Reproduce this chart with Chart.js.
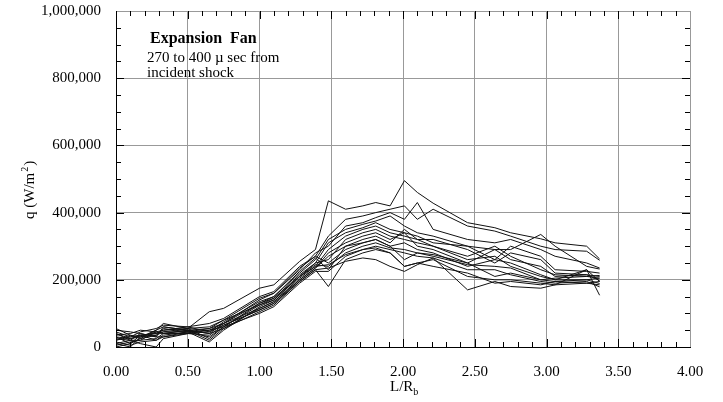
<!DOCTYPE html>
<html>
<head>
<meta charset="utf-8">
<script src="https://cdn.jsdelivr.net/npm/chart.js@4.4.0/dist/chart.umd.min.js"></script>
<style>
  html, body { margin: 0; padding: 0; background: #fff; }
  #wrap { width: 723px; height: 402px; }
</style>
</head>
<body>
<div id="wrap"><canvas id="chart"></canvas></div>
<script>
// Positions des jauges (L/R_b)
const positions = [0.00, 0.10, 0.17, 0.28, 0.33, 0.50, 0.65, 0.75, 1.00, 1.10, 1.28, 1.39, 1.48, 1.60, 1.72, 1.81, 1.91, 2.01, 2.10, 2.21, 2.45, 2.64, 2.75, 2.96, 3.06, 3.28, 3.37];

// Flux de chaleur q, en milliers de W/m2
const runA = [20, 30, 35, 40, 45, 55, 105, 115, 175, 185, 255, 290, 435, 410, 420, 430, 420, 495, 460, 428, 370, 355, 340, 322, 310, 300, 262];
const runB = [40, 25, 30, 45, 50, 60, 70, 85, 150, 165, 240, 270, 330, 380, 390, 400, 410, 420, 380, 410, 360, 345, 330, 300, 290, 285, 258];
const runC = [10, 20, 40, 30, 60, 50, 40, 70, 140, 160, 230, 280, 300, 360, 370, 385, 400, 380, 430, 350, 320, 310, 320, 290, 270, 250, 235];
const runD = [55, 35, 30, 50, 70, 55, 25, 60, 130, 150, 220, 260, 320, 350, 365, 375, 390, 360, 340, 330, 300, 290, 290, 335, 300, 240, 232];
const runE = [30, 10, 25, 35, 55, 45, 15, 50, 120, 140, 210, 250, 310, 340, 355, 370, 350, 340, 330, 310, 300, 260, 300, 270, 230, 225, 220];
const runF = [5, 15, 20, 25, 40, 50, 20, 55, 115, 135, 205, 240, 290, 330, 350, 360, 340, 330, 320, 320, 290, 250, 280, 260, 220, 215, 210];
const runG = [15, 5, 15, 20, 35, 45, 30, 60, 125, 145, 215, 250, 260, 320, 340, 350, 330, 320, 310, 300, 270, 300, 270, 230, 215, 210, 205];
const runH = [25, 20, 10, 0, 25, 40, 35, 65, 110, 130, 200, 235, 280, 310, 330, 340, 320, 340, 300, 290, 250, 290, 260, 240, 210, 215, 198];
const runI = [45, 30, 45, 55, 65, 60, 45, 75, 135, 150, 225, 265, 230, 300, 320, 330, 310, 350, 320, 300, 260, 270, 240, 210, 200, 230, 195];
const runJ = [0, 10, 35, 40, 50, 55, 60, 80, 145, 160, 235, 270, 250, 290, 310, 320, 300, 310, 290, 280, 240, 260, 250, 215, 200, 200, 189];
const runK = [35, 40, 50, 45, 40, 50, 55, 70, 130, 145, 210, 245, 240, 280, 300, 310, 295, 290, 280, 270, 245, 240, 235, 200, 195, 190, 185];
const runL = [50, 45, 40, 30, 30, 40, 50, 60, 100, 120, 190, 225, 225, 270, 290, 300, 290, 280, 270, 265, 230, 230, 215, 195, 190, 195, 179];
const runM = [20, 35, 25, 50, 60, 50, 40, 55, 105, 125, 195, 230, 180, 260, 280, 290, 280, 240, 250, 260, 210, 200, 200, 190, 185, 230, 154];
const runN = [10, 0, 30, 35, 45, 45, 50, 70, 115, 135, 200, 235, 270, 300, 310, 320, 300, 260, 280, 275, 250, 210, 220, 200, 205, 210, 213];
const runO = [30, 25, 35, 20, 30, 45, 55, 80, 125, 140, 210, 240, 245, 275, 290, 295, 280, 240, 250, 240, 220, 190, 195, 185, 195, 200, 205];
const runP = [40, 20, 20, 45, 40, 40, 45, 65, 110, 130, 195, 230, 235, 255, 265, 260, 240, 225, 245, 265, 170, 195, 180, 175, 185, 190, 195];

const runs = [runA, runB, runC, runD, runE, runF, runG, runH, runI, runJ, runK, runL, runM, runN, runO, runP];

// Graduations
const xTicks = [0, 0.5, 1, 1.5, 2, 2.5, 3, 3.5, 4];
const yTicks = [0, 200, 400, 600, 800, 1000];

const serif = '"Liberation Serif", "Times New Roman", serif';

const datasets = runs.map((run, i) => ({
    label: 'run ' + (i + 1),
    data: run.map((q, j) => ({ x: positions[j], y: q })),
    borderColor: '#111',
    borderWidth: 1,
    pointRadius: 0,
    tension: 0,
    fill: false
}));

// Petites graduations + titres + annotation
const decorPlugin = {
    id: 'decor',
    afterDraw(chart) {
        const { ctx, chartArea: a, scales: { x, y } } = chart;
        ctx.save();
        ctx.strokeStyle = '#000';
        ctx.lineWidth = 1;
        ctx.beginPath();
        for (let k = 1; k < 40; k++) {
            const px = Math.round(x.getPixelForValue(k / 10)) + 0.5;
            const len = (k % 5 === 0) ? 8 : 5;
            ctx.moveTo(px, a.bottom); ctx.lineTo(px, a.bottom - len);
            ctx.moveTo(px, a.top); ctx.lineTo(px, a.top + len);
        }
        for (let k = 1; k < 20; k++) {
            const py = Math.round(y.getPixelForValue(k * 50)) + 0.5;
            const len = (k % 4 === 0) ? 8 : 5;
            ctx.moveTo(a.left, py); ctx.lineTo(a.left + len, py);
            ctx.moveTo(a.right, py); ctx.lineTo(a.right - len, py);
        }
        ctx.stroke();

        ctx.fillStyle = '#000';
        ctx.textBaseline = 'alphabetic';
        ctx.textAlign = 'left';

        // Titre axe X : L/R_b
        ctx.font = '15px ' + serif;
        const xt = 'L/R';
        const xw = ctx.measureText(xt).width;
        const x0 = 390;
        ctx.fillText(xt, x0, 391);
        ctx.font = '10px ' + serif;
        ctx.fillText('b', x0 + xw, 395);

        // Titre axe Y : q (W/m2)
        ctx.save();
        ctx.translate(34, 219);
        ctx.rotate(-Math.PI / 2);
        ctx.font = '15px ' + serif;
        const yt = 'q (W/m';
        const yw = ctx.measureText(yt).width;
        ctx.fillText(yt, 0, 0);
        ctx.font = '10px ' + serif;
        ctx.fillText('2', yw + 1, -6);
        const sw = ctx.measureText('2').width;
        ctx.font = '15px ' + serif;
        ctx.fillText(')', yw + sw + 2, 0);
        ctx.restore();

        // Annotation
        ctx.font = 'bold 16px ' + serif;
        ctx.fillText('Expansion  Fan', 150, 43);
        ctx.font = '15px ' + serif;
        ctx.fillText('270 to 400 \u00b5 sec from', 147, 62);
        ctx.fillText('incident shock', 147, 77);
        ctx.restore();
    }
};

const ctx = document.getElementById('chart');

new Chart(ctx, {
    type: 'line',
    data: { datasets },
    options: {
        responsive: true,
        maintainAspectRatio: false,
        animation: false,
        layout: { padding: { top: 11, right: 33, left: 0, bottom: 0 } },
        plugins: {
            legend: { display: false },
            tooltip: { enabled: false }
        },
        scales: {
            x: {
                type: 'linear',
                min: 0,
                max: 4,
                afterBuildTicks: (s) => { s.ticks = xTicks.map(v => ({ value: v })); },
                afterFit: (s) => { s.height = 55; s.paddingLeft = 0; s.paddingRight = 0; },
                grid: { color: '#999', lineWidth: 1, drawTicks: false },
                border: { display: true, color: '#000', width: 1 },
                ticks: {
                    padding: 16,
                    color: '#000',
                    font: { family: serif, size: 15 },
                    maxRotation: 0,
                    callback: (v) => Number(v).toFixed(2)
                }
            },
            y: {
                type: 'linear',
                min: 0,
                max: 1000,
                afterBuildTicks: (s) => { s.ticks = yTicks.map(v => ({ value: v })); },
                afterFit: (s) => { s.width = 116; s.paddingTop = 0; s.paddingBottom = 0; },
                grid: { color: '#999', lineWidth: 1, drawTicks: false },
                border: { display: true, color: '#000', width: 1 },
                ticks: {
                    padding: 15,
                    color: '#000',
                    font: { family: serif, size: 15 },
                    callback: (v) => (v * 1000).toLocaleString('en-US')
                }
            }
        }
    },
    plugins: [decorPlugin]
});
</script>
</body>
</html>
